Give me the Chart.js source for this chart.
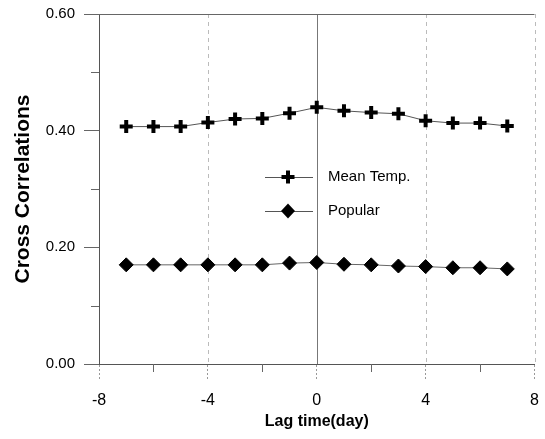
<!DOCTYPE html>
<html>
<head>
<meta charset="utf-8">
<title>Cross Correlations</title>
<script src="https://cdn.jsdelivr.net/npm/chart.js@4.4.0/dist/chart.umd.min.js"></script>
<style>
  html, body { margin: 0; padding: 0; background: #fff; }
  canvas { display: block; }
</style>
</head>
<body>
<canvas id="chartCanvas" width="545" height="439"></canvas>
<script>
// lag in days and cross correlation for each series
const lags = [-7, -6, -5, -4, -3, -2, -1, 0, 1, 2, 3, 4, 5, 6, 7];
const meanTemp = [0.407, 0.407, 0.407, 0.414, 0.420, 0.421, 0.430, 0.440, 0.434, 0.431, 0.429, 0.417, 0.413, 0.413, 0.408];
const popular = [0.170, 0.170, 0.170, 0.170, 0.170, 0.170, 0.173, 0.174, 0.171, 0.170, 0.168, 0.167, 0.165, 0.165, 0.163];
const seriesNames = ["Mean Temp.", "Popular"];
const xTicks = [-8, -4, 0, 4, 8];
const xMinorTicks = [-6, -2, 2, 6];
const yTicks = [0.0, 0.2, 0.4, 0.6];
const yMinorTicks = [0.1, 0.3, 0.5];

const SANS = '"Liberation Sans", Arial, sans-serif';

function toPoints(values) {
  return lags.map((lag, i) => ({ x: lag, y: values[i] }));
}

function drawMarker(ctx, style, x, y) {
  ctx.save();
  ctx.fillStyle = "#000";
  ctx.strokeStyle = "#000";
  if (style === "cross") {
    ctx.lineWidth = 4;
    ctx.beginPath();
    ctx.moveTo(x - 6.5, y);
    ctx.lineTo(x + 6.5, y);
    ctx.moveTo(x, y - 6.5);
    ctx.lineTo(x, y + 6.5);
    ctx.stroke();
  } else {
    ctx.beginPath();
    ctx.moveTo(x, y - 7.5);
    ctx.lineTo(x + 7, y);
    ctx.lineTo(x, y + 7.5);
    ctx.lineTo(x - 7, y);
    ctx.closePath();
    ctx.fill();
  }
  ctx.restore();
}

// dashed vertical grid, drawn under the series
const vGrid = {
  id: "vGrid",
  beforeDatasetsDraw(chart) {
    const ctx = chart.ctx;
    const area = chart.chartArea;
    const xs = chart.scales.x;
    ctx.save();
    ctx.lineWidth = 1;
    xTicks.forEach(v => {
      if (v === xs.min) return;
      const px = Math.round(xs.getPixelForValue(v)) + 0.5;
      ctx.strokeStyle = v === 0 ? "#777" : "#bbb";
      ctx.setLineDash(v === 0 ? [] : [4, 4]);
      ctx.beginPath();
      ctx.moveTo(px, area.top);
      ctx.lineTo(px, area.bottom);
      ctx.stroke();
    });
    ctx.restore();
  }
};

// frame top line, minor ticks and the in-plot legend
const decorations = {
  id: "decorations",
  afterDatasetsDraw(chart) {
    const ctx = chart.ctx;
    const area = chart.chartArea;
    const xs = chart.scales.x;
    const ys = chart.scales.y;
    ctx.save();
    ctx.strokeStyle = "#666";
    ctx.lineWidth = 1;
    ctx.beginPath();
    ctx.moveTo(area.left, Math.round(area.top) + 0.5);
    ctx.lineTo(area.right, Math.round(area.top) + 0.5);
    ctx.stroke();

    ctx.beginPath();
    yMinorTicks.forEach(v => {
      const py = Math.round(ys.getPixelForValue(v)) + 0.5;
      ctx.moveTo(area.left - 8, py);
      ctx.lineTo(area.left, py);
    });
    xMinorTicks.forEach(v => {
      const px = Math.round(xs.getPixelForValue(v)) + 0.5;
      ctx.moveTo(px, area.bottom);
      ctx.lineTo(px, area.bottom + 8);
    });
    ctx.stroke();

    const legendX = 288;
    const rows = [177, 211];
    chart.data.datasets.forEach((ds, i) => {
      const y = rows[i];
      ctx.strokeStyle = "#555";
      ctx.lineWidth = 1;
      ctx.beginPath();
      ctx.moveTo(legendX - 23, y + 0.5);
      ctx.lineTo(legendX + 25, y + 0.5);
      ctx.stroke();
      drawMarker(ctx, ds.pointStyle, legendX, y);
      ctx.fillStyle = "#000";
      ctx.font = "15px " + SANS;
      ctx.textBaseline = "middle";
      ctx.textAlign = "left";
      ctx.fillText(ds.label, legendX + 40, y);
    });
    ctx.restore();
  }
};

const ctx = document.getElementById("chartCanvas").getContext("2d");
new Chart(ctx, {
  type: "line",
  data: {
    datasets: [{
      label: seriesNames[0],
      data: toPoints(meanTemp),
      borderColor: "#555",
      borderWidth: 1,
      pointStyle: "cross",
      pointRadius: 6.5,
      pointBorderWidth: 4,
      pointBorderColor: "#000",
      pointBackgroundColor: "#000",
      tension: 0
    }, {
      label: seriesNames[1],
      data: toPoints(popular),
      borderColor: "#666",
      borderWidth: 1,
      pointStyle: "rectRot",
      pointRadius: 7,
      pointBorderWidth: 1,
      pointBorderColor: "#000",
      pointBackgroundColor: "#000",
      tension: 0
    }]
  },
  options: {
    responsive: false,
    animation: false,
    layout: { padding: { top: 14, right: 8, left: 0, bottom: 0 } },
    plugins: {
      legend: { display: false },
      tooltip: { enabled: false }
    },
    scales: {
      x: {
        type: "linear",
        min: -8,
        max: 8,
        afterBuildTicks: scale => { scale.ticks = xTicks.map(v => ({ value: v })); },
        afterFit: scale => {
          scale.height = 75;
          scale.paddingLeft = 0;
          scale.paddingRight = 0;
        },
        ticks: {
          color: "#000",
          font: { family: SANS, size: 16 },
          padding: 11,
          maxRotation: 0
        },
        grid: {
          drawOnChartArea: false,
          tickLength: 16,
          tickColor: "#999",
          tickBorderDash: [2, 2]
        },
        border: { color: "#555", width: 1 },
        title: {
          display: true,
          text: "Lag time(day)",
          color: "#000",
          font: { family: SANS, size: 16, weight: "bold" },
          padding: { top: 0, bottom: 8 }
        }
      },
      y: {
        min: 0,
        max: 0.6,
        afterBuildTicks: scale => { scale.ticks = yTicks.map(v => ({ value: v })); },
        afterFit: scale => {
          scale.width = 99;
          scale.paddingTop = 0;
          scale.paddingBottom = 0;
        },
        ticks: {
          color: "#000",
          font: { family: SANS, size: 15 },
          padding: 9,
          callback: v => v.toFixed(2)
        },
        grid: {
          drawOnChartArea: false,
          tickLength: 15,
          tickColor: "#666"
        },
        border: { color: "#555", width: 1 },
        title: {
          display: true,
          text: "Cross Correlations",
          color: "#000",
          font: { family: SANS, size: 21, weight: "bold" },
          padding: { top: 11, bottom: 0 }
        }
      }
    }
  },
  plugins: [vGrid, decorations]
});
</script>
</body>
</html>
